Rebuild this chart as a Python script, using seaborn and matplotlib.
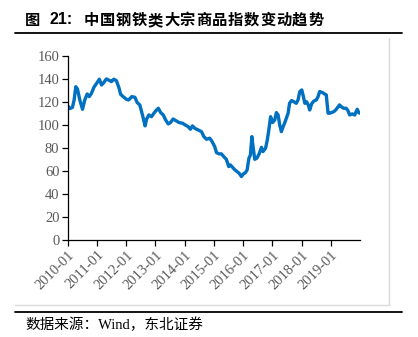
import matplotlib
matplotlib.use("Agg")
import matplotlib.pyplot as plt
import matplotlib.dates as mdates
from matplotlib.lines import Line2D
import pandas as pd
import seaborn as sns

title_label = "图"
title_number = "21:"
title_body = "中国钢铁类大宗商品指数变动趋势"
source_text = "数据来源：Wind，东北证券"

dates = [
    "2010-01-04", "2010-01-25", "2010-03-01", "2010-03-22", "2010-04-12", "2010-05-03",
    "2010-06-01", "2010-07-05", "2010-08-02", "2010-09-01", "2010-09-27", "2010-10-25",
    "2010-11-24", "2011-01-04", "2011-01-31", "2011-02-28", "2011-03-28", "2011-04-29",
    "2011-06-10", "2011-07-01", "2011-07-30", "2011-09-01", "2011-10-05", "2011-10-24",
    "2011-11-25", "2012-01-04", "2012-01-31", "2012-03-12", "2012-04-20", "2012-05-18",
    "2012-06-20", "2012-07-23", "2012-08-25", "2012-09-12", "2012-10-11", "2012-11-13",
    "2012-12-13", "2013-01-15", "2013-02-06", "2013-03-08", "2013-04-09", "2013-05-08",
    "2013-06-10", "2013-07-08", "2013-08-10", "2013-09-12", "2013-10-23", "2013-12-05",
    "2014-01-15", "2014-02-13", "2014-03-14", "2014-04-09", "2014-05-08", "2014-06-18",
    "2014-07-31", "2014-08-29", "2014-10-01", "2014-11-10", "2014-12-10", "2015-01-12",
    "2015-02-03", "2015-03-08", "2015-04-06", "2015-05-05", "2015-06-06", "2015-07-06",
    "2015-07-27", "2015-08-22", "2015-09-21", "2015-10-19", "2015-11-13", "2015-12-12",
    "2016-01-04", "2016-01-30", "2016-02-21", "2016-03-14", "2016-04-02", "2016-04-20",
    "2016-05-05", "2016-05-26", "2016-06-20", "2016-07-20", "2016-08-18", "2016-09-06",
    "2016-10-08", "2016-10-30", "2016-11-21", "2016-12-10", "2017-01-04", "2017-01-31",
    "2017-02-20", "2017-03-14", "2017-04-03", "2017-04-24", "2017-05-16", "2017-06-03",
    "2017-06-25", "2017-07-17", "2017-08-04", "2017-08-29", "2017-09-25", "2017-10-27",
    "2017-11-18", "2017-12-10", "2018-01-04", "2018-01-24", "2018-02-11", "2018-03-04",
    "2018-03-26", "2018-04-13", "2018-05-06", "2018-05-27", "2018-06-15", "2018-07-05",
    "2018-07-26", "2018-08-15", "2018-09-20", "2018-10-16", "2018-11-06", "2018-11-28",
    "2018-12-20", "2019-01-08", "2019-02-10", "2019-03-11", "2019-04-20", "2019-05-11",
    "2019-06-10", "2019-07-12", "2019-08-03", "2019-08-25", "2019-09-27", "2019-10-27",
    "2019-11-14", "2019-11-28", "2019-12-16", "2019-12-31",
]
index_values = [
    116.3, 114.0, 115.0, 121.5, 133.0, 131.0,
    121.5, 113.4, 121.5, 126.7, 124.4, 127.3,
    132.5, 136.6, 139.5, 134.5, 136.6, 139.8,
    138.3, 137.4, 139.5, 138.3, 131.7, 126.4,
    124.4, 122.1, 121.5, 124.4, 123.8, 119.2,
    117.2, 108.5, 99.0, 104.7, 108.5, 107.0,
    110.0, 112.8, 114.3, 110.5, 108.5, 104.2,
    100.7, 101.9, 105.0, 103.6, 101.9, 101.3,
    99.5, 98.4, 96.1, 99.0, 96.9, 95.5,
    94.0, 89.7, 87.4, 88.3, 85.4, 81.0,
    75.8, 74.7, 74.7, 72.3, 70.0, 63.7,
    65.1, 63.1, 60.8, 59.3, 57.9, 55.0,
    57.3, 58.4, 60.8, 70.9, 73.8, 89.7,
    81.0, 70.0, 70.9, 74.7, 80.4, 76.7,
    79.6, 86.8, 96.9, 107.0, 101.9, 104.2,
    110.5, 108.5, 99.8, 94.0, 98.4, 101.3,
    105.6, 110.0, 118.6, 121.0, 120.0, 118.6,
    121.5, 128.8, 130.2, 124.4, 118.6, 120.0,
    117.2, 112.8, 118.0, 120.0, 121.0, 121.5,
    124.4, 128.8, 127.9, 126.7, 125.9, 110.0,
    110.0, 110.5, 111.4, 113.4, 117.2, 115.7,
    114.3, 114.3, 112.3, 108.5, 109.4, 108.5,
    111.4, 113.4, 110.5, 110.0,
]
tick_years = ["2010", "2011", "2012", "2013", "2014", "2015", "2016", "2017", "2018", "2019"]
y_ticks = [0, 20, 40, 60, 80, 100, 120, 140, 160]

df = pd.DataFrame({"date": pd.to_datetime(dates), "value": index_values})

sns.set_theme(style="white")
plt.rcParams["font.family"] = ["Liberation Serif", "Noto Sans CJK SC", "DejaVu Sans"]

W, H = 418, 337
fig = plt.figure(figsize=(W / 100, H / 100), dpi=100)
ax = fig.add_axes([0.162, 0.288, 0.699, 0.547])

sns.lineplot(data=df, x="date", y="value", ax=ax, color="#0070C0", linewidth=2.4)

ax.set_xlim(pd.Timestamp("2010-01-01"), pd.Timestamp("2019-12-31"))
ax.set_ylim(0, 160)
ax.set_yticks(y_ticks)
ax.set_xticks(pd.to_datetime([y + "-01-01" for y in tick_years]))
ax.xaxis.set_major_formatter(mdates.DateFormatter("%Y-%m"))
ax.set_xlabel("")
ax.set_ylabel("")

for side in ["top", "right"]:
    ax.spines[side].set_visible(False)
for side in ["left", "bottom"]:
    ax.spines[side].set_color("#000000")
    ax.spines[side].set_linewidth(0.9)

ax.tick_params(axis="y", direction="out", length=4, width=0.9, color="#000000",
               labelsize=10.5, labelcolor="#595959", pad=2, left=True)
ax.tick_params(axis="x", direction="out", length=4, width=0.9, color="#000000",
               labelsize=10.5, labelcolor="#595959", pad=2, bottom=True)
for lab in ax.get_xticklabels():
    lab.set_rotation(45)
    lab.set_ha("right")
    lab.set_rotation_mode("anchor")

# Heading: label, number, then the spaced-out title characters
cjk_bold = dict(fontsize=11, fontweight="bold", family=["Noto Sans CJK SC", "DejaVu Sans"],
                va="center", ha="left", color="#000000")
title_y = 1 - 20 / H
fig.text(25 / W, title_y, title_label, **cjk_bold)
fig.text(50 / W, title_y, title_number, **{**cjk_bold, "family": ["Liberation Sans", "DejaVu Sans"],
                                            "fontsize": 11.5})
char_step = 16.0
for i, ch in enumerate(title_body):
    fig.text((84 + i * char_step) / W, title_y, ch, **cjk_bold)

fig.add_artist(Line2D([15 / W, 402 / W], [1 - 33 / H, 1 - 33 / H], transform=fig.transFigure,
                      color="#000000", linewidth=1.3))
# Soft frame edge around the chart area
fig.add_artist(Line2D([389 / W, 389 / W], [1 - 38 / H, 1 - 305 / H], transform=fig.transFigure,
                      color="#d9d9d9", linewidth=1.0))
fig.add_artist(Line2D([15 / W, 389 / W], [1 - 305 / H, 1 - 305 / H], transform=fig.transFigure,
                      color="#d9d9d9", linewidth=1.0))
fig.add_artist(Line2D([15 / W, 402 / W], [1 - 312 / H, 1 - 312 / H], transform=fig.transFigure,
                      color="#000000", linewidth=1.3))
fig.text(25 / W, 1 - 325 / H, source_text, fontsize=10.5,
         family=["Liberation Serif", "Noto Sans CJK SC"], va="center", ha="left", color="#000000")

fig.savefig("out.png", dpi=100)
